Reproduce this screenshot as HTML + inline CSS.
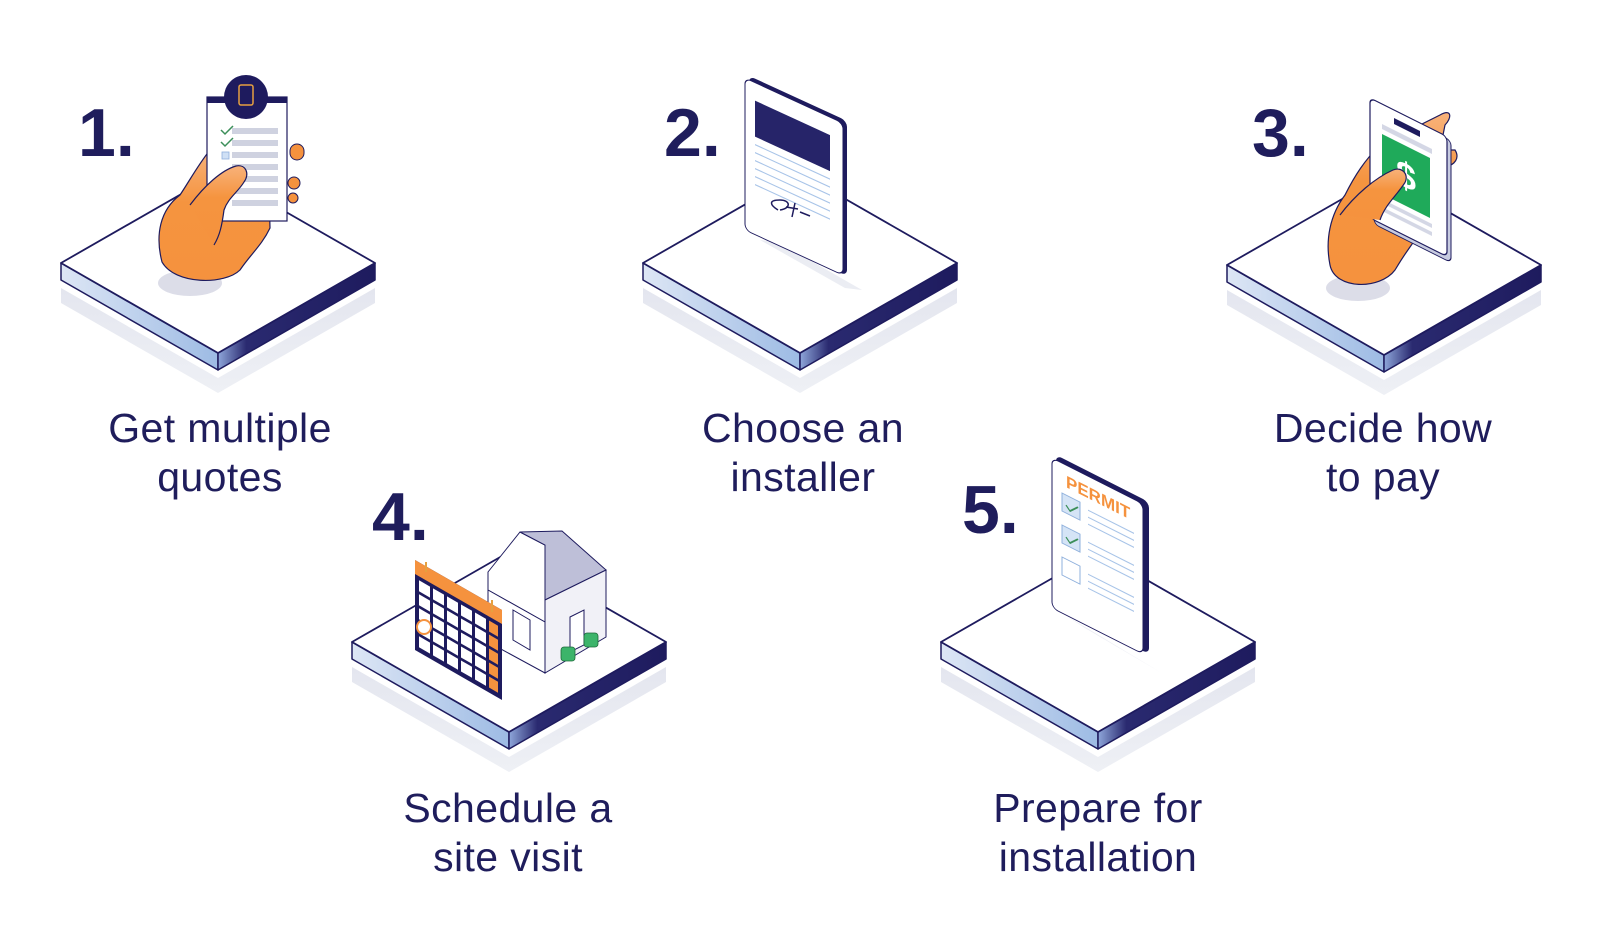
<!DOCTYPE html>
<html><head><meta charset="utf-8"><style>
html,body{margin:0;padding:0;background:#fff;width:1620px;height:942px;overflow:hidden}
svg{display:block}
.lbl{font-family:"Liberation Sans",sans-serif;font-size:41px;fill:#1f1d5c;text-anchor:middle;letter-spacing:0.4px}
.num{font-family:"Liberation Sans",sans-serif;font-size:68px;font-weight:bold;fill:#1f1d5c}
</style></head><body>
<svg width="1620" height="942" viewBox="0 0 1620 942" xmlns="http://www.w3.org/2000/svg">
<defs>
<linearGradient id="lf" x1="0" y1="0" x2="1" y2="0">
<stop offset="0" stop-color="#dde6f5"/><stop offset="1" stop-color="#9dbbe4"/>
</linearGradient>
<linearGradient id="rf" x1="0" y1="0" x2="1" y2="0">
<stop offset="0" stop-color="#8ea6da"/><stop offset="0.18" stop-color="#2a2a70"/><stop offset="1" stop-color="#1e1b5e"/>
</linearGradient>
<linearGradient id="sh" x1="0" y1="0" x2="0" y2="1">
<stop offset="0" stop-color="#e4e6ef"/><stop offset="1" stop-color="#eef0f5"/>
</linearGradient>
<linearGradient id="hand" x1="0" y1="0" x2="0" y2="1">
<stop offset="0" stop-color="#f8b27a"/><stop offset="0.4" stop-color="#f5943f"/><stop offset="1" stop-color="#f5923e"/>
</linearGradient>
<g id="plat">
<polygon points="-157,40 0,130 157,40 157,25 0,115 -157,25" fill="url(#sh)"/>
<polygon points="-157,0 0,90 0,107 -157,17" fill="url(#lf)" stroke="#1e1b5e" stroke-width="1.5" stroke-linejoin="round"/>
<polygon points="0,90 157,0 157,17 0,107" fill="url(#rf)" stroke="#1e1b5e" stroke-width="1.5" stroke-linejoin="round"/>
<polygon points="-157,0 0,-90 157,0 0,90" fill="#fff" stroke="#1e1b5e" stroke-width="1.8" stroke-linejoin="round"/>
</g>
</defs>

<use href="#plat" x="218" y="263"/>
<use href="#plat" x="800" y="263"/>
<use href="#plat" x="1384" y="265"/>
<use href="#plat" x="509" y="642"/>
<use href="#plat" x="1098" y="642"/>

<text class="num" x="78" y="156">1.</text>
<text class="num" x="664" y="156">2.</text>
<text class="num" x="1252" y="156">3.</text>
<text class="num" x="372" y="540">4.</text>
<text class="num" x="962" y="533">5.</text>

<text class="lbl" x="220" y="442">Get multiple</text>
<text class="lbl" x="220" y="491">quotes</text>
<text class="lbl" x="803" y="442">Choose an</text>
<text class="lbl" x="803" y="491">installer</text>
<text class="lbl" x="1383" y="442">Decide how</text>
<text class="lbl" x="1383" y="491">to pay</text>
<text class="lbl" x="508" y="822">Schedule a</text>
<text class="lbl" x="508" y="871">site visit</text>
<text class="lbl" x="1098" y="822">Prepare for</text>
<text class="lbl" x="1098" y="871">installation</text>

<!-- ITEM 1 -->
<ellipse cx="190" cy="283" rx="32" ry="13" fill="#dcdde8"/>
<path d="M162,262 C155,235 160,210 180,195 C190,180 198,165 210,150 L268,150 L270,228 C262,245 250,255 240,270 C225,285 175,285 162,262 Z" fill="url(#hand)" stroke="#1e1b5e" stroke-width="1.2"/>
<rect x="290" y="144" width="14" height="16" rx="7" fill="#f5923e" stroke="#1e1b5e" stroke-width="1"/>
<rect x="288" y="177" width="12" height="12" rx="6" fill="#f5923e" stroke="#1e1b5e" stroke-width="1"/>
<rect x="288" y="193" width="10" height="10" rx="5" fill="#f5923e" stroke="#1e1b5e" stroke-width="1"/>
<rect x="207" y="97" width="80" height="124" fill="#fff" stroke="#1e1b5e" stroke-width="1.2"/>
<rect x="207" y="97" width="80" height="6" fill="#1e1b5e"/>
<circle cx="246" cy="97" r="22" fill="#1e1b5e"/>
<rect x="239" y="85" width="14" height="20" rx="2" fill="none" stroke="#e6a040" stroke-width="1.5"/>
<g fill="#cfd2e0">
<rect x="232" y="128" width="46" height="6"/><rect x="232" y="140" width="46" height="6"/>
<rect x="232" y="152" width="46" height="6"/><rect x="232" y="164" width="46" height="6"/>
<rect x="232" y="176" width="46" height="6"/><rect x="232" y="188" width="46" height="6"/>
<rect x="232" y="200" width="46" height="6"/></g>
<path d="M221,130 l4,4 l8,-8 M221,142 l4,4 l8,-8" stroke="#3c8f5a" stroke-width="1.5" fill="none"/>
<rect x="222" y="152" width="7" height="7" fill="#cfe0f5" stroke="#8fb0dc" stroke-width="0.8"/>
<path d="M190,205 C205,185 222,170 236,166 C246,164 250,174 244,182 C238,192 228,198 224,210 C222,225 220,235 214,245" fill="url(#hand)" stroke="#1e1b5e" stroke-width="1.2"/>

<!-- ITEM 2 -->
<polygon points="760,240 845,288 862,290 778,242" fill="#e6e8f0" opacity="0.8"/>
<g transform="matrix(1,0.46,0,1,745,78)">
<rect x="4" y="-4" width="98" height="155" rx="6" fill="#1e1b5e"/>
<rect x="0" y="0" width="98" height="152" rx="6" fill="#fff" stroke="#1e1b5e" stroke-width="1"/>
<rect x="10" y="18" width="75" height="36" fill="#262469"/>
<g stroke="#a8c4e8" stroke-width="1.2">
<line x1="10" y1="62" x2="85" y2="62"/><line x1="10" y1="70" x2="85" y2="70"/><line x1="10" y1="78" x2="85" y2="78"/>
<line x1="10" y1="86" x2="85" y2="86"/><line x1="10" y1="94" x2="85" y2="94"/><line x1="10" y1="102" x2="85" y2="102"/></g>
</g>
<path d="M778,210 C770,205 768,200 780,200 C790,200 792,208 780,210 M786,207 l12,2 M795,203 l-3,14 M800,212 l10,4" stroke="#1e1b5e" stroke-width="1.5" fill="none"/>

<!-- ITEM 3 -->
<ellipse cx="1358" cy="288" rx="32" ry="13" fill="#dcdde8"/>
<path d="M1330,265 C1325,240 1330,215 1345,195 C1355,175 1365,160 1380,145 L1440,115 C1452,108 1452,118 1445,125 L1440,150 L1455,150 C1460,158 1455,165 1445,167 L1445,205 C1425,225 1410,245 1395,270 C1380,290 1335,290 1330,265 Z" fill="url(#hand)" stroke="#1e1b5e" stroke-width="1.2"/>
<g transform="matrix(1,0.5,0,1,1370,98)">
<rect x="4" y="2" width="77" height="122" rx="5" fill="#c7cbe0" stroke="#1e1b5e" stroke-width="1"/>
<rect x="0" y="0" width="77" height="120" rx="5" fill="#fff" stroke="#1e1b5e" stroke-width="1.2"/>
<rect x="24" y="8" width="26" height="6" fill="#1e1b5e"/>
<rect x="12" y="20" width="50" height="5" fill="#d4d7e5"/>
<rect x="12" y="30" width="48" height="60" fill="#1faa5a"/>
<text x="36" y="72" font-family="Liberation Sans,sans-serif" font-size="36" font-weight="bold" fill="#fff" text-anchor="middle">$</text>
<rect x="12" y="95" width="50" height="4" fill="#d4d7e5"/><rect x="12" y="103" width="50" height="4" fill="#d4d7e5"/>
</g>
<path d="M1340,215 C1355,195 1375,178 1393,170 C1403,166 1410,176 1404,184 C1396,196 1385,205 1380,220" fill="url(#hand)" stroke="#1e1b5e" stroke-width="1.2"/>

<!-- ITEM 4 -->
<polygon points="488,572 520,532 545,545 545,622 488,590" fill="#fff" stroke="#1e1b5e" stroke-width="1"/>
<polygon points="520,532 562,531 606,570 545,600 545,545" fill="#bebfd8" stroke="#1e1b5e" stroke-width="1"/>
<polygon points="545,600 606,570 606,637 545,673" fill="#f1f1f7" stroke="#1e1b5e" stroke-width="1"/>
<polygon points="488,590 545,622 545,673 488,642" fill="#fff" stroke="#1e1b5e" stroke-width="1"/>
<polygon points="513,610 530,620 530,650 513,640" fill="#fff" stroke="#1e1b5e" stroke-width="1"/>
<polygon points="570,617 584,610 584,645 570,652" fill="#fff" stroke="#1e1b5e" stroke-width="1"/>
<rect x="561" y="647" width="14" height="14" rx="3" fill="#3cb46a" stroke="#1e6b3a" stroke-width="0.8"/>
<rect x="584" y="633" width="14" height="14" rx="3" fill="#3cb46a" stroke="#1e6b3a" stroke-width="0.8"/>
<g transform="matrix(1,0.575,0,1,415,560)">
<rect x="0" y="0" width="87" height="90" fill="#1e1b5e"/>
<rect x="0" y="0" width="87" height="14" fill="#f5923e"/>
<g fill="#fff">
<rect x="4" y="18" width="11" height="11"/><rect x="18" y="18" width="11" height="11"/><rect x="32" y="18" width="11" height="11"/><rect x="46" y="18" width="11" height="11"/><rect x="60" y="18" width="11" height="11"/><rect x="74" y="18" width="9" height="11" fill="#f5923e"/>
<rect x="4" y="32" width="11" height="11"/><rect x="18" y="32" width="11" height="11"/><rect x="32" y="32" width="11" height="11"/><rect x="46" y="32" width="11" height="11"/><rect x="60" y="32" width="11" height="11"/><rect x="74" y="32" width="9" height="11" fill="#f5923e"/>
<rect x="4" y="46" width="11" height="11"/><rect x="18" y="46" width="11" height="11"/><rect x="32" y="46" width="11" height="11"/><rect x="46" y="46" width="11" height="11"/><rect x="60" y="46" width="11" height="11"/><rect x="74" y="46" width="9" height="11" fill="#f5923e"/>
<rect x="4" y="60" width="11" height="11"/><rect x="18" y="60" width="11" height="11"/><rect x="32" y="60" width="11" height="11"/><rect x="46" y="60" width="11" height="11"/><rect x="60" y="60" width="11" height="11"/><rect x="74" y="60" width="9" height="11" fill="#f5923e"/>
<rect x="4" y="74" width="11" height="11"/><rect x="18" y="74" width="11" height="11"/><rect x="32" y="74" width="11" height="11"/><rect x="46" y="74" width="11" height="11"/><rect x="60" y="74" width="11" height="11"/><rect x="74" y="74" width="9" height="11" fill="#f5923e"/>
</g>
</g>
<circle cx="424" cy="627" r="7" fill="#fff" stroke="#f5923e" stroke-width="2"/>
<line x1="426" y1="562" x2="426" y2="572" stroke="#e6a040" stroke-width="2"/>
<line x1="492" y1="600" x2="492" y2="612" stroke="#e6a040" stroke-width="2"/>

<!-- ITEM 5 -->
<polygon points="1065,615 1140,660 1160,672 1085,628" fill="#e6e8f0" opacity="0.8"/>
<g transform="matrix(1,0.505,0,1,1052,458)">
<rect x="4" y="-5" width="93" height="152" rx="6" fill="#1e1b5e"/>
<rect x="0" y="0" width="91" height="150" rx="6" fill="#fff" stroke="#1e1b5e" stroke-width="1"/>
<text x="14" y="22" font-family="Liberation Sans,sans-serif" font-size="17" font-weight="bold" fill="#f5923e">PERMIT</text>
<rect x="10" y="30" width="18" height="18" fill="#d5e4f6" stroke="#8fb0dc"/>
<rect x="10" y="62" width="18" height="18" fill="#d5e4f6" stroke="#8fb0dc"/>
<rect x="10" y="94" width="18" height="18" fill="#fff" stroke="#8fb0dc"/>
<path d="M14,40 l4,4 l8,-8 M14,72 l4,4 l8,-8" stroke="#3c8f5a" stroke-width="1.5" fill="none"/>
<g stroke="#a8c4e8" stroke-width="1.2">
<line x1="36" y1="34" x2="82" y2="34"/><line x1="36" y1="41" x2="82" y2="41"/><line x1="36" y1="48" x2="82" y2="48"/>
<line x1="36" y1="66" x2="82" y2="66"/><line x1="36" y1="73" x2="82" y2="73"/><line x1="36" y1="80" x2="82" y2="80"/>
<line x1="36" y1="98" x2="82" y2="98"/><line x1="36" y1="105" x2="82" y2="105"/><line x1="36" y1="112" x2="82" y2="112"/></g>
</g>
</svg>
</body></html>
